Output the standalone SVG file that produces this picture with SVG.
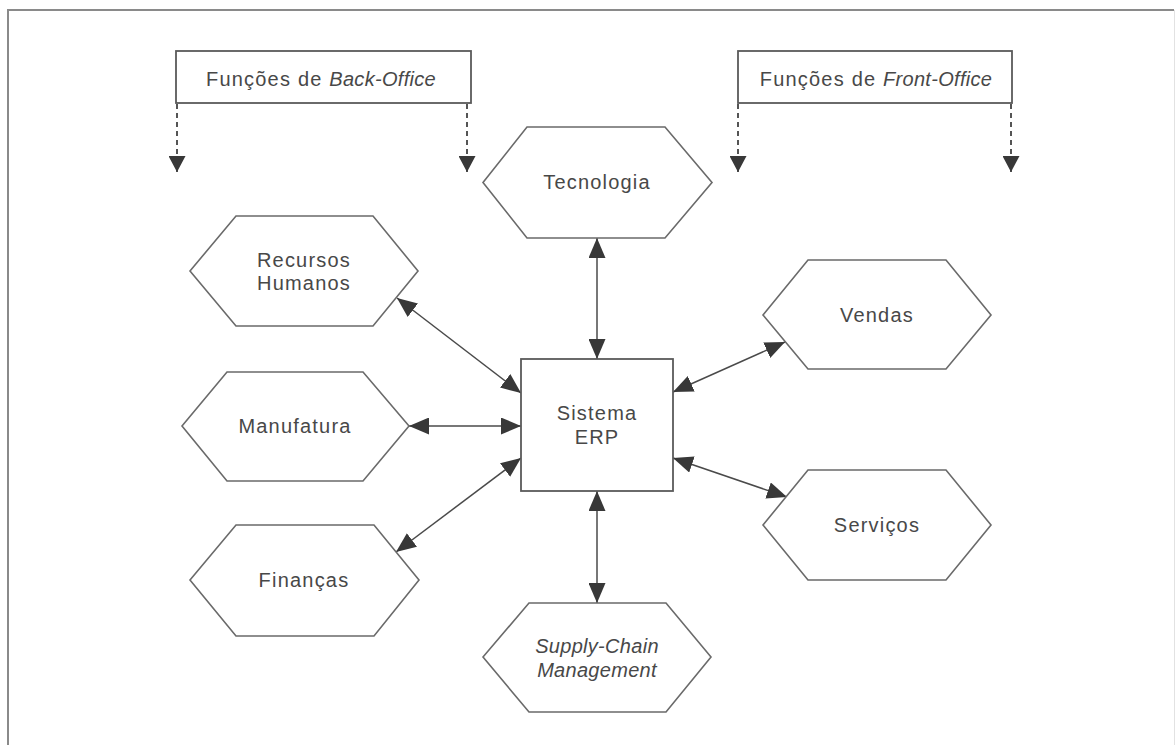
<svg xmlns="http://www.w3.org/2000/svg" width="1176" height="745" viewBox="0 0 1176 745">
<defs>
<style>
.hex{fill:#fff;stroke:#6a6a6a;stroke-width:1.6}
.box{fill:#fff;stroke:#5a5a5a;stroke-width:1.8}
.t{font-family:"Liberation Sans",Arial,sans-serif;font-size:20px;letter-spacing:1.2px;fill:#484848;text-anchor:middle;dominant-baseline:central}
.i{font-style:italic;letter-spacing:0.3px}
.c{stroke:#4a4a4a;stroke-width:1.5;fill:none}
.d{stroke:#555;stroke-width:2;fill:none;stroke-dasharray:5,4}
</style>
<marker id="ah" viewBox="0 0 20 17" refX="20" refY="8.5" markerWidth="20" markerHeight="17" markerUnits="userSpaceOnUse" orient="auto-start-reverse">
<path d="M0,0 L20,8.5 L0,17 z" fill="#383838"/>
</marker>
<marker id="dh" viewBox="0 0 16 17" refX="16" refY="8.5" markerWidth="16" markerHeight="17" markerUnits="userSpaceOnUse" orient="auto">
<path d="M0,0 L16,8.5 L0,17 z" fill="#383838"/>
</marker>
</defs>
<rect width="1176" height="745" fill="#fff"/>
<path d="M8,760 V10 H1174" fill="none" stroke="#8a8a8a" stroke-width="2"/>
<path d="M1174.5,10 V760" fill="none" stroke="#e2e2e2" stroke-width="1"/>

<g id="connectors">
<line class="d" x1="177" y1="104" x2="177" y2="172" marker-end="url(#dh)"/>
<line class="d" x1="467" y1="104" x2="467" y2="172" marker-end="url(#dh)"/>
<line class="d" x1="738" y1="104" x2="738" y2="172" marker-end="url(#dh)"/>
<line class="d" x1="1011" y1="104" x2="1011" y2="172" marker-end="url(#dh)"/>
<line class="c" x1="597" y1="238" x2="597" y2="359" marker-start="url(#ah)" marker-end="url(#ah)"/>
<line class="c" x1="597" y1="491" x2="597" y2="603" marker-start="url(#ah)" marker-end="url(#ah)"/>
<line class="c" x1="397" y1="298" x2="521" y2="393" marker-start="url(#ah)" marker-end="url(#ah)"/>
<line class="c" x1="409" y1="426" x2="521" y2="426" marker-start="url(#ah)" marker-end="url(#ah)"/>
<line class="c" x1="396" y1="552" x2="521" y2="458" marker-start="url(#ah)" marker-end="url(#ah)"/>
<line class="c" x1="673" y1="392" x2="785" y2="342" marker-start="url(#ah)" marker-end="url(#ah)"/>
<line class="c" x1="673" y1="458" x2="787" y2="497" marker-start="url(#ah)" marker-end="url(#ah)"/>
</g>

<g id="back-office">
<rect class="box" x="176" y="51" width="295" height="52"/>
<text class="t" x="321" y="79">Funções de <tspan class="i">Back-Office</tspan></text>
</g>
<g id="front-office">
<rect class="box" x="738" y="51" width="274" height="52"/>
<text class="t" x="876" y="79">Funções de <tspan class="i">Front-Office</tspan></text>
</g>

<g id="tecnologia">
<polygon class="hex" points="483,182.5 527,127 665,127 712,182.5 665,238 527,238"/>
<text class="t" x="597" y="182">Tecnologia</text>
</g>
<g id="recursos-humanos">
<polygon class="hex" points="190,271 236,216 373,216 418,271 373,326 236,326"/>
<text class="t" x="304" y="260">Recursos</text>
<text class="t" x="304" y="283">Humanos</text>
</g>
<g id="manufatura">
<polygon class="hex" points="182,426 227,372 363,372 409,426 363,481 227,481"/>
<text class="t" x="295" y="426">Manufatura</text>
</g>
<g id="financas">
<polygon class="hex" points="190,580 236,525 374,525 419,580 374,636 236,636"/>
<text class="t" x="304" y="580">Finanças</text>
</g>
<g id="supply-chain">
<polygon class="hex" points="483,657 529,603 666,603 711,657 666,712 529,712"/>
<text class="t i" x="597" y="646">Supply-Chain</text>
<text class="t i" x="597" y="670">Management</text>
</g>
<g id="vendas">
<polygon class="hex" points="763,315 808,260 946,260 991,315 946,369 808,369"/>
<text class="t" x="877" y="315">Vendas</text>
</g>
<g id="servicos">
<polygon class="hex" points="763,525 808,470 946,470 991,525 946,580 808,580"/>
<text class="t" x="877" y="525">Serviços</text>
</g>
<g id="sistema-erp">
<rect class="box" x="521" y="359" width="152" height="132"/>
<text class="t" x="597" y="413">Sistema</text>
<text class="t" x="597" y="437">ERP</text>
</g>
</svg>
